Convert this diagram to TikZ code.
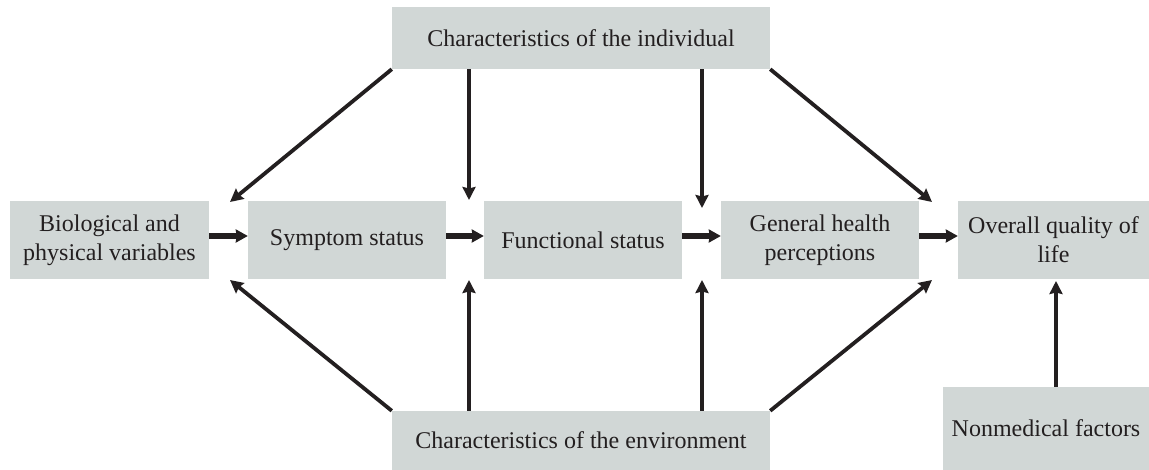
\documentclass[tikz,border=0pt]{standalone}
\usepackage{fontspec}
\setmainfont{Liberation Serif}
\usetikzlibrary{arrows.meta}
\definecolor{boxgray}{HTML}{D1D7D6}
\definecolor{ink}{HTML}{231F20}
\begin{document}
\begin{tikzpicture}[x=1pt,y=-1pt,
  box/.style={fill=boxgray, draw=none, inner sep=0pt, align=center, text=ink,
    font=\fontsize{24}{29}\selectfont},
  arr/.style={draw=ink, line width=3.8pt, -{Stealth[length=13pt,width=13pt,inset=1.5pt]}},
  harr/.style={draw=ink, line width=5.5pt, -{Stealth[length=12pt,width=13pt,inset=1pt]}}
]
\useasboundingbox (0,0) rectangle (1149,470);
\node[box, minimum width=378pt, minimum height=62pt] (top) at (581,38) {Characteristics of the individual};
\node[box, minimum width=199pt, minimum height=78pt] (bio) at (109.5,240) {Biological and\\physical variables};
\node[box, minimum width=198pt, minimum height=78pt] (sym) at (347,240) {Symptom status};
\node[box, minimum width=198pt, minimum height=78pt] (fun) at (583,240) {Functional status};
\node[box, minimum width=198pt, minimum height=78pt] (gen) at (820,240) {General health\\perceptions};
\node[box, minimum width=191pt, minimum height=78pt] (ovr) at (1053.5,240) {Overall quality of\\life};
\node[box, minimum width=378pt, minimum height=59pt] (env) at (581,440.5) {Characteristics of the environment};
\node[box, minimum width=206pt, minimum height=83pt] (non) at (1046,428.5) {Nonmedical factors};

\coordinate (a1t) at (230,202);
\coordinate (a2t) at (469,200);
\coordinate (a3t) at (702,208);
\coordinate (a4t) at (932,202);
\coordinate (a1b) at (230,280);
\coordinate (a2b) at (469,280);
\coordinate (a3b) at (702,280);
\coordinate (a4b) at (932,280);
\coordinate (a5b) at (1056,281);

\draw[arr] (top.south west) -- (a1t);
\draw[arr] (top.south -| a2t) -- (a2t);
\draw[arr] (top.south -| a3t) -- (a3t);
\draw[arr] (top.south east) -- (a4t);

\draw[arr] (env.north west) -- (a1b);
\draw[arr] (env.north -| a2b) -- (a2b);
\draw[arr] (env.north -| a3b) -- (a3b);
\draw[arr] (env.north east) -- (a4b);

\draw[harr] ([yshift=4pt]bio.east) -- ([yshift=4pt]sym.west);
\draw[harr] ([yshift=4pt]sym.east) -- ([yshift=4pt]fun.west);
\draw[harr] ([yshift=4pt]fun.east) -- ([yshift=4pt]gen.west);
\draw[harr] ([yshift=4pt]gen.east) -- ([yshift=4pt]ovr.west);

\draw[arr] (non.north -| a5b) -- (a5b);
\end{tikzpicture}
\end{document}
